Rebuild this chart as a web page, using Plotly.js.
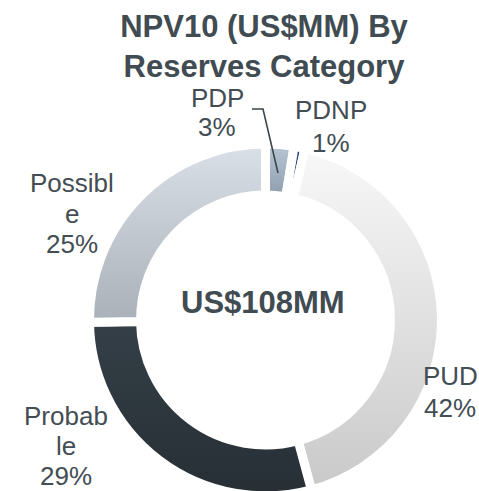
<!DOCTYPE html>
<html>
<head>
<meta charset="utf-8">
<script src="https://cdn.plot.ly/plotly-3.0.1.min.js"></script>
<style>
html,body{margin:0;padding:0;background:#fff;overflow:hidden;}
#chart{width:479px;height:496px;}
</style>
</head>
<body>
<div id="chart"></div>
<script>
// ---- data ----
const categories = ["PDP", "PDNP", "PUD", "Probable", "Possible"];
const values = [2.6, 1.0, 42.2, 29.0, 25.2];
const labelLines = [["PDP"], ["PDNP"], ["PUD"], ["Probab", "le"], ["Possibl", "e"]];
const titleText = "NPV10 (US$MM) By<br>Reserves Category";
const totalLabel = "US$108MM";

// ---- styles / layout ----
const W = 479, H = 496;
const FONT = "Liberation Sans, Arial, Helvetica, sans-serif";
const textColor = "#434d54";
const solidColors = ["#a3b3c3", "#1f3b75", "#e1e1e1", "#2e383f", "#c3cad2"];
const gradStops = [
  ["#b9c7d5", "#8e9dac"],
  ["#2a4a8a", "#152c5c"],
  ["#f8f8f8", "#c9c9c9"],
  ["#343f47", "#272f35"],
  ["#d9e0e8", "#a9b0b7"]
];
// label anchor: [center x px, first-line baseline px, line spacing px]
const labelPos = [[217, 107, 29], [331, 119, 33], [450, 385, 32], [66, 425, 30], [72, 192, 30.5]];

const px = x => x / W;
const py = y => 1 - y / H;

const total = values.reduce((a, b) => a + b, 0);
const annotations = [];
categories.forEach((c, i) => {
  const lines = labelLines[i].concat([Math.round(values[i] / total * 100) + "%"]);
  const [cx, by, sp] = labelPos[i];
  lines.forEach((t, k) => {
    annotations.push({
      text: t, showarrow: false, xref: "paper", yref: "paper",
      x: px(cx), y: py(by + k * sp - 9), xanchor: "center", yanchor: "middle",
      font: {family: FONT, size: 26, color: textColor}
    });
  });
});
annotations.push({
  text: "<b>" + totalLabel + "</b>", showarrow: false, xref: "paper", yref: "paper",
  x: px(263), y: py(302), xanchor: "center", yanchor: "middle",
  font: {family: FONT, size: 31, color: "#404b52"}
});

// pie geometry: centre (265.5, 320) px from top-left, radius 176
const R = 176, CX = 265.5, CY = 320;
const trace = {
  type: "pie",
  labels: categories,
  values: values,
  sort: false,
  direction: "clockwise",
  rotation: 0,
  hole: 0.71,
  textinfo: "none",
  hoverinfo: "label+percent",
  domain: {x: [(CX - R) / W, (CX + R) / W], y: [(H - CY - R) / H, (H - CY + R) / H]},
  marker: {colors: solidColors, line: {color: "#ffffff", width: 9}}
};

const layout = {
  width: W, height: H,
  margin: {l: 0, r: 0, t: 0, b: 0},
  paper_bgcolor: "#ffffff",
  showlegend: false,
  title: {
    text: "<b>" + titleText + "</b>",
    x: px(264), xanchor: "center",
    y: py(37), yref: "container", yanchor: "top",
    font: {family: FONT, size: 31, color: "#404b52"}
  },
  annotations: annotations,
  shapes: [{
    type: "path", xref: "paper", yref: "paper",
    path: "M " + px(252) + " " + py(109) + " L " + px(263) + " " + py(109) + " L " + px(278) + " " + py(173),
    line: {color: "#3b454b", width: 1.6}
  }]
};

Plotly.newPlot("chart", [trace], layout, {displayModeBar: false, staticPlot: true}).then(gd => {
  const svg = gd.querySelector("svg.main-svg");
  const NS = "http://www.w3.org/2000/svg";
  const defs = document.createElementNS(NS, "defs");
  gradStops.forEach((st, i) => {
    const g = document.createElementNS(NS, "linearGradient");
    g.setAttribute("id", "sliceGrad" + i);
    g.setAttribute("x1", "0"); g.setAttribute("y1", "0");
    g.setAttribute("x2", "0"); g.setAttribute("y2", "1");
    st.forEach((col, k) => {
      const s = document.createElementNS(NS, "stop");
      s.setAttribute("offset", k === 0 ? "0" : "1");
      s.setAttribute("stop-color", col);
      g.appendChild(s);
    });
    defs.appendChild(g);
  });
  svg.insertBefore(defs, svg.firstChild);
  gd.querySelectorAll("g.slice path.surface").forEach((p, i) => {
    p.style.fill = "url(#sliceGrad" + i + ")";
  });
});
</script>
</body>
</html>
